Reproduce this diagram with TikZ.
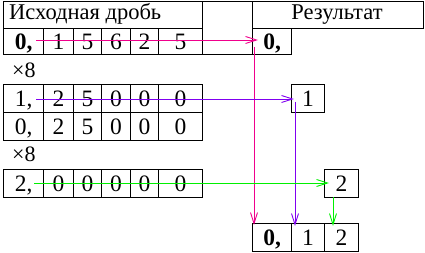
\documentclass[tikz,border=0pt]{standalone}
\usepackage{fontspec}
\setmainfont{Liberation Serif}
\usetikzlibrary{arrows.meta}
\definecolor{mag}{HTML}{F0008C}
\definecolor{vio}{HTML}{8000F0}
\definecolor{grn}{HTML}{00F000}
\tikzset{
  cell/.style={draw, line width=1.2pt, inner sep=0pt, anchor=north west,
    text height=16pt, text depth=0pt, font=\fontsize{23.5}{23.5}\selectfont},
  hdr/.style={inner sep=0pt, font=\fontsize{22.5}{22.5}\selectfont},
  times/.style={inner sep=0pt, anchor=base west, font=\fontsize{22}{22}\selectfont},
  link/.style={line width=0.9pt, -{Straight Barb[length=11pt,width=7pt]}},
}
\begin{document}
\begin{tikzpicture}[x=1pt,y=-1pt]
\useasboundingbox (0,0) rectangle (425,253);
% top table
\node[cell, minimum width=199, minimum height=27] (hA) at (3,1) {};
\node[hdr, anchor=base west] (hAt) at (9,20) {Исходная дробь};
\node[cell, minimum width=50, minimum height=53] (gap) at (202,1) {};
\node[cell, minimum width=171, minimum height=27] (hR) at (252,1) {};
\node[hdr, anchor=base] (hRt) at (337,20) {Результат};
\node[cell, minimum width=39, minimum height=26] (r0) at (252,28) {\bfseries 0,};
% row 1
\node[cell, minimum width=40, minimum height=26] (a0) at (3,28) {\bfseries 0,};
\node[cell, minimum width=30, minimum height=26] (a1) at (43,28) {1};
\node[cell, minimum width=28, minimum height=26] (a2) at (73,28) {5};
\node[cell, minimum width=29, minimum height=26] (a3) at (101,28) {6};
\node[cell, minimum width=28, minimum height=26] (a4) at (130,28) {2};
\node[cell, minimum width=44, minimum height=26] (a5) at (158,28) {5};
% x8
\node[times] (t1) at (12,78) {×8};
% row 2
\node[cell, minimum width=40, minimum height=28] (b0) at (3,84) {1,};
\node[cell, minimum width=30, minimum height=28] (b1) at (43,84) {2};
\node[cell, minimum width=28, minimum height=28] (b2) at (73,84) {5};
\node[cell, minimum width=29, minimum height=28] (b3) at (101,84) {0};
\node[cell, minimum width=28, minimum height=28] (b4) at (130,84) {0};
\node[cell, minimum width=44, minimum height=28] (b5) at (158,84) {0};
\node[cell, minimum width=40, minimum height=28] (c0) at (3,112) {0,};
\node[cell, minimum width=30, minimum height=28] (c1) at (43,112) {2};
\node[cell, minimum width=28, minimum height=28] (c2) at (73,112) {5};
\node[cell, minimum width=29, minimum height=28] (c3) at (101,112) {0};
\node[cell, minimum width=28, minimum height=28] (c4) at (130,112) {0};
\node[cell, minimum width=44, minimum height=28] (c5) at (158,112) {0};
\node[cell, minimum width=33, minimum height=28] (r1) at (291,84) {1};
% x8
\node[times] (t2) at (12,162) {×8};
% row 3
\node[cell, minimum width=40, minimum height=28] (d0) at (3,169) {2,};
\node[cell, minimum width=30, minimum height=28] (d1) at (43,169) {0};
\node[cell, minimum width=28, minimum height=28] (d2) at (73,169) {0};
\node[cell, minimum width=29, minimum height=28] (d3) at (101,169) {0};
\node[cell, minimum width=28, minimum height=28] (d4) at (130,169) {0};
\node[cell, minimum width=44, minimum height=28] (d5) at (158,169) {0};
\node[cell, minimum width=34, minimum height=28] (r2) at (324,169) {2};
% final result
\node[cell, minimum width=39, minimum height=28] (f0) at (252,223) {\bfseries 0,};
\node[cell, minimum width=33, minimum height=28] (f1) at (291,223) {1};
\node[cell, minimum width=34, minimum height=28] (f2) at (324,223) {2};
% connectors
\coordinate (ms) at (36,40);
\coordinate (me) at (258,40);
\coordinate (mv) at (254,47);
\coordinate (mt) at (254,225);
\coordinate (vs) at (36,99);
\coordinate (ve) at (294,99);
\coordinate (vv) at (295,102);
\coordinate (vt) at (295,226);
\coordinate (gs) at (34,183);
\coordinate (ge) at (329,183);
\coordinate (gv) at (333,197);
\coordinate (gt) at (333,226);
\draw[link, mag] (ms) -- (me);
\draw[link, mag] (mv) -- (mt);
\draw[link, vio] (vs) -- (ve);
\draw[link, vio] (vv) -- (vt);
\draw[link, grn] (gs) -- (ge);
\draw[link, grn] (gv) -- (gt);
\end{tikzpicture}
\end{document}
